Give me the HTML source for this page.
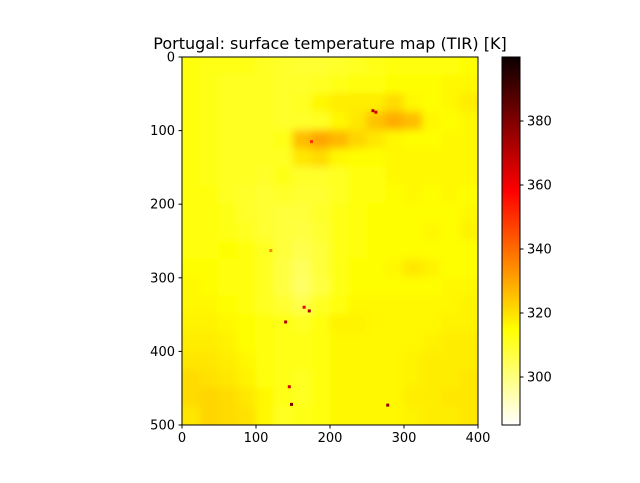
<!DOCTYPE html>
<html><head><meta charset="utf-8"><style>
body{margin:0;background:#fff;}
svg text{font-family:"DejaVu Sans","Liberation Sans",sans-serif;}
</style></head><body>
<svg id="chart" width="640" height="478" xmlns="http://www.w3.org/2000/svg">
<defs>
<filter id="blur" x="-5%" y="-5%" width="110%" height="110%"><feGaussianBlur stdDeviation="4"/></filter>
<clipPath id="clip"><rect x="182" y="57" width="296" height="368"/></clipPath>
<linearGradient id="cbgrad" x1="0" y1="1" x2="0" y2="0">
<stop offset="0" stop-color="#ffffff"/>
<stop offset="0.26" stop-color="#ffff00"/>
<stop offset="0.635" stop-color="#ff0000"/>
<stop offset="1" stop-color="#0b0000"/>
</linearGradient>
</defs>
<text x="330" y="49" font-size="16" text-anchor="middle">Portugal: surface temperature map (TIR) [K]</text>
<g id="heat" clip-path="url(#clip)"><rect x="182" y="57" width="296" height="368" fill="#ffff10"/><g id="cells" filter="url(#blur)"></g><g id="spots"></g></g>
<rect x="182" y="57" width="296" height="368" fill="none" stroke="#000" stroke-width="1"/>
<g id="xticks"></g><g id="yticks"></g>
<rect x="502" y="57" width="18" height="368" fill="url(#cbgrad)" stroke="#000" stroke-width="1"/>
<g id="cbticks"></g>
</svg>
<script>
const xTicks=[0,100,200,300,400];
const yTicks=[0,100,200,300,400,500];
const cbTicks=[300,320,340,360,380];
const vmin=285, vmax=400;
const grid=[
[313,312,312,312,311,310,309,309,310,311,312,313,314,314,314,315],
[313,312,311,311,311,310,310,311,312,313,314,315,315,315,316,316],
[313,312,311,311,311,310,311,316,318,318,318,321,316,315,316,318],
[313,312,311,311,311,310,310,311,316,319,325,329,326,316,315,316],
[313,312,311,311,311,312,326,330,327,322,319,316,315,315,316,316],
[313,312,311,311,311,311,319,321,316,315,315,316,316,316,316,316],
[313,312,311,311,310,312,310,310,311,313,314,316,316,316,316,316],
[313,313,311,310,309,310,309,309,311,313,314,315,316,315,316,315],
[314,314,312,310,309,308,308,310,312,313,315,315,315,315,315,316],
[314,314,312,311,309,308,307,309,312,314,315,315,315,316,315,317],
[314,314,315,314,311,308,306,308,312,314,315,315,315,315,315,315],
[315,315,314,313,311,307,304,308,312,315,315,316,319,317,315,315],
[316,315,314,313,311,307,303,307,312,315,315,315,315,315,316,316],
[316,316,315,313,311,309,306,311,314,316,316,316,316,316,316,317],
[317,317,316,315,313,312,311,314,317,317,316,316,316,316,317,317],
[318,318,317,315,313,312,312,314,316,316,316,316,316,317,318,318],
[319,319,318,316,313,312,312,314,316,316,316,316,317,318,318,318],
[321,320,319,317,314,312,311,314,316,316,316,316,317,318,318,319],
[321,322,321,319,316,312,311,314,316,316,316,316,318,318,319,319],
[319,322,321,320,316,311,312,314,316,316,316,316,317,318,318,319]];
const spotX=[140,172,145,148,278,258,175,165,262,120];
const spotY=[360,345,448,472,473,73,115,340,75,263];
const spotV=[370,372,365,380,375,370,350,360,365,335];
const cellSize=25;
const NS="http://www.w3.org/2000/svg";
const sx=v=>182+v*296/400, sy=v=>57+v*368/500, cy=v=>425-(v-vmin)*368/(vmax-vmin);
function color(v){let t=(v-vmin)/(vmax-vmin);t=Math.max(0,Math.min(1,t));const s=1-t;
const r=Math.min(1,s/0.365),g=Math.max(0,Math.min(1,(s-0.365)/0.375)),b=Math.max(0,Math.min(1,(s-0.74)/0.26));
return `rgb(${Math.round(r*255)},${Math.round(g*255)},${Math.round(b*255)})`;}
const cells=document.getElementById('cells');
grid.forEach((row,i)=>row.forEach((v,j)=>{const r=document.createElementNS(NS,'rect');
let x0=sx(j*cellSize)-0.5,y0=sy(i*cellSize)-0.5,w=sx(cellSize)-182+1,h=sy(cellSize)-57+1;
if(j===0){x0-=10;w+=10;} if(j===row.length-1){w+=10;}
if(i===0){y0-=10;h+=10;} if(i===grid.length-1){h+=10;}
r.setAttribute('x',x0);r.setAttribute('y',y0);
r.setAttribute('width',w);r.setAttribute('height',h);
r.setAttribute('fill',color(v));


cells.appendChild(r);}));
const spots=document.getElementById('spots');
spotX.forEach((x,k)=>{const r=document.createElementNS(NS,'rect');
r.setAttribute('x',sx(x)-1.5);r.setAttribute('y',sy(spotY[k])-1.5);r.setAttribute('width',3);r.setAttribute('height',3);
r.setAttribute('fill',color(spotV[k]));


spots.appendChild(r);});
function tick(g,x1,y1,x2,y2,tx,ty,anchor,label,name){
const l=document.createElementNS(NS,'line');l.setAttribute('x1',x1);l.setAttribute('y1',y1);l.setAttribute('x2',x2);l.setAttribute('y2',y2);l.setAttribute('stroke','#000');


g.appendChild(l);
const t=document.createElementNS(NS,'text');t.setAttribute('x',tx);t.setAttribute('y',ty);t.setAttribute('text-anchor',anchor);t.setAttribute('font-size','13');t.textContent=label;


g.appendChild(t);}
const gx=document.getElementById('xticks'),gy=document.getElementById('yticks'),gc=document.getElementById('cbticks');
xTicks.forEach(v=>tick(gx,sx(v),425,sx(v),428.5,sx(v),442,'middle',v,'x-tick'));
yTicks.forEach(v=>tick(gy,182,sy(v),178.5,sy(v),175,sy(v)+4.5,'end',v,'y-tick'));
cbTicks.forEach(v=>tick(gc,520,cy(v),523.5,cy(v),527,cy(v)+4.5,'start',v,'colorbar-tick'));
</script>
</body></html>
